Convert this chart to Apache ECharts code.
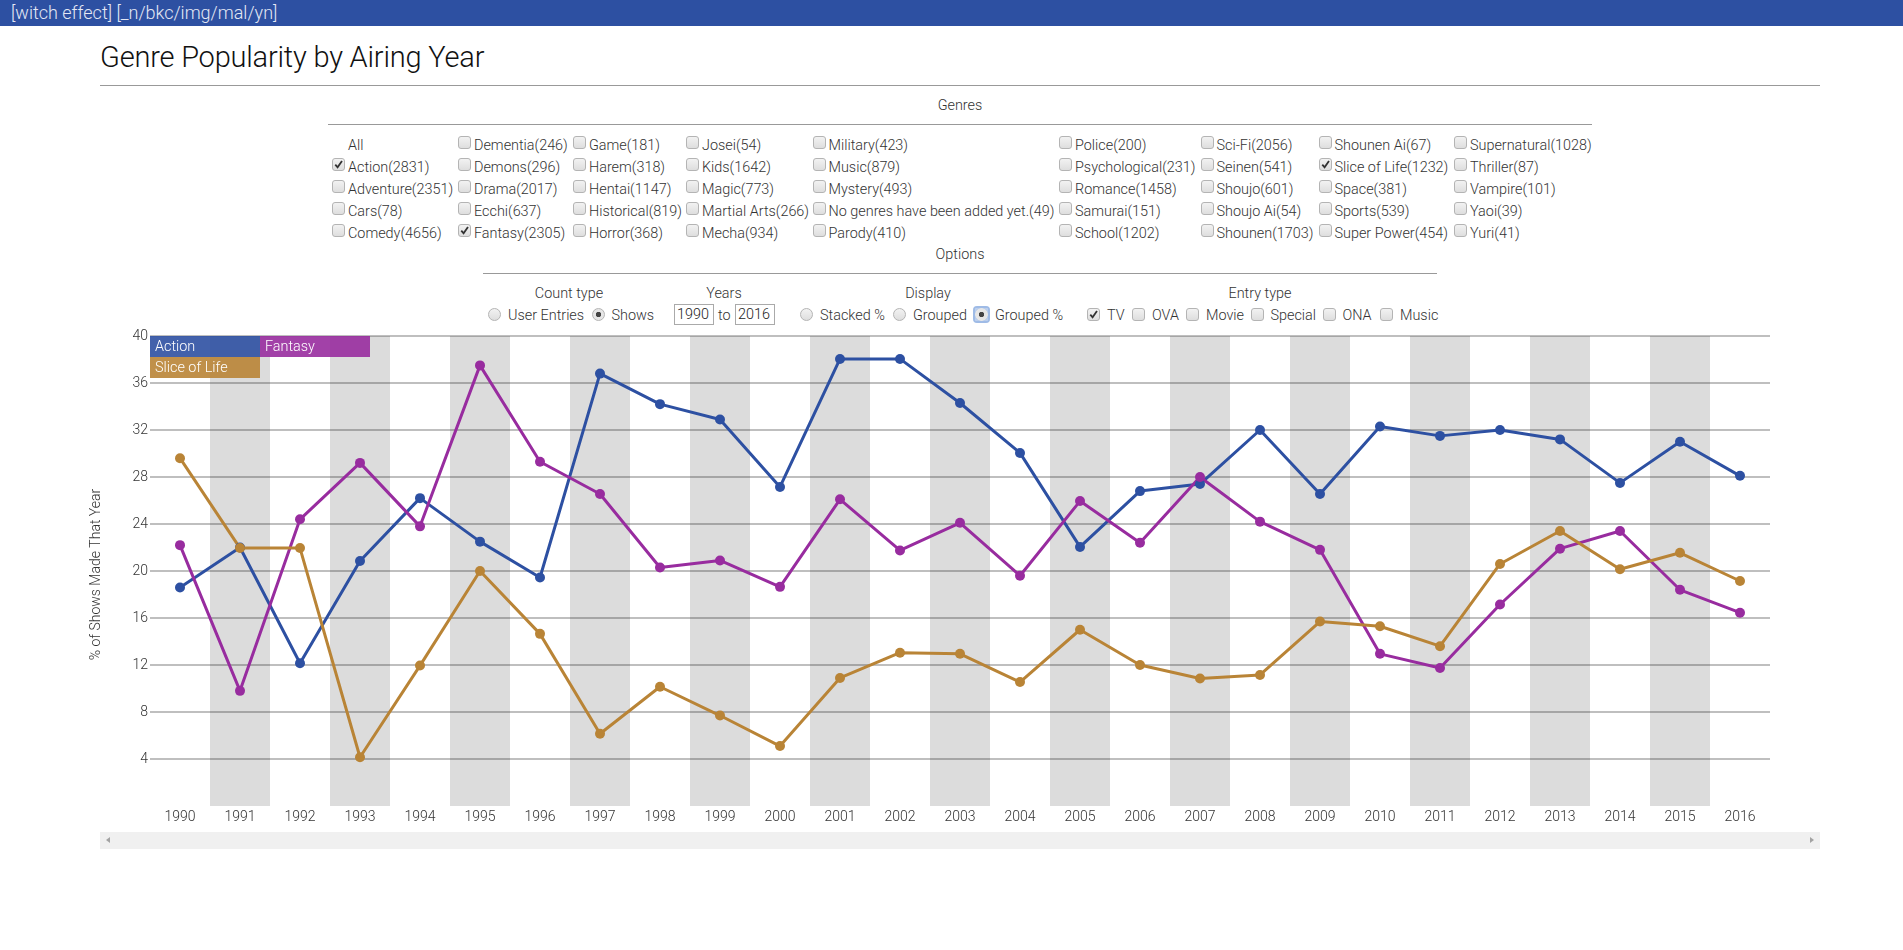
<!DOCTYPE html>
<html>
<head>
<meta charset="utf-8">
<title>Genre Popularity by Airing Year</title>
<script src="https://cdnjs.cloudflare.com/ajax/libs/echarts/6.0.0/echarts.min.js"></script>
<style>
  html, body { margin: 0; padding: 0; background: #fff; overflow: hidden; }
  body { width: 1903px; height: 950px; position: relative; font-family: Roboto, sans-serif; font-weight: 300; font-size: 14.4px; color: #333; }
  #topbar { position: absolute; left: 0; top: 0; width: 100%; height: 26px; background: #2d50a2; color: #e4e8f4; font-size: 18px; line-height: 25px; text-indent: 11px; }
  h1 { position: absolute; left: 100px; top: 38px; margin: 0; font-size: 29px; letter-spacing: -0.2px; font-weight: 300; line-height: 38px; color: #111; }
  .rule { position: absolute; height: 0; border-top: 1px solid #999; }
  .t { position: absolute; white-space: nowrap; line-height: 18px; }
  .c { transform: translateX(-50%); }
  input.box, input.dot { position: absolute; appearance: none; -webkit-appearance: none; margin: 0; width: 13px; height: 13px; box-sizing: border-box; border: 1px solid #b4b4b4; background: linear-gradient(#f2f2f2, #dedede); }
  input.box { border-radius: 3px; }
  input.dot { border-radius: 50%; }
  input.box:checked { background: url("data:image/svg+xml,%3Csvg xmlns='http://www.w3.org/2000/svg' viewBox='0 0 12 12'%3E%3Cpath d='M2.5 6.2 5 9 9.8 2.2' fill='none' stroke='%23333' stroke-width='2'/%3E%3C/svg%3E"), linear-gradient(#f2f2f2, #dedede); }
  input.dot:checked { background: radial-gradient(circle, #444 0 2.4px, #e6e6e6 3px); }
  input.dot.focus { border-radius: 2px; border: 0; outline: 2px solid #9fbbe6; background: radial-gradient(circle, #444 0 2.4px, #e6e6e6 3px 6px, #b9cdec 6.5px); }
  input.year { position: absolute; box-sizing: border-box; width: 40px; height: 21px; padding: 0 0 0 2px; border: 1px solid #aaa; font: 300 14.4px Roboto, sans-serif; color: #222; }
  #chart { position: absolute; left: 80px; top: 326px; width: 1720px; height: 506px; }
  #scroll { position: absolute; left: 100px; top: 832px; width: 1720px; height: 17px; background: #f0f0f0; }
  #scroll i { position: absolute; top: 5px; width: 0; height: 0; border-top: 3.5px solid transparent; border-bottom: 3.5px solid transparent; }
  #scroll .l { left: 6px; border-right: 4px solid #a3a3a3; }
  #scroll .r { right: 6px; border-left: 4px solid #a3a3a3; }
</style>
</head>
<body>
<div id="topbar">[witch effect] [_n/bkc/img/mal/yn]</div>
<h1>Genre Popularity by Airing Year</h1>
<div class="rule" style="left:100px;top:85px;width:1720px"></div>
<div class="t c" style="left:960px;top:97px">Genres</div>
<div class="rule" style="left:328px;top:124px;width:1264px"></div>
<div class="t c" style="left:960px;top:246px">Options</div>
<div class="rule" style="left:483px;top:273px;width:954px"></div>
<div id="controls"></div>
<div id="chart"></div>
<div id="scroll"><i class="l"></i><i class="r"></i></div>
<script>
// chart data
const years = ["1990","1991","1992","1993","1994","1995","1996","1997","1998","1999","2000","2001","2002","2003","2004","2005","2006","2007","2008","2009","2010","2011","2012","2013","2014","2015","2016"];
const action = [18.6,22,12.15,20.85,26.2,22.5,19.45,36.8,34.2,32.9,27.15,38.05,38.05,34.3,30.05,22.05,26.8,27.4,32,26.55,32.3,31.5,32,31.2,27.5,31,28.1];
const fantasy = [22.2,9.8,24.4,29.2,23.8,37.5,29.3,26.55,20.3,20.9,18.65,26.1,21.75,24.1,19.6,25.95,22.4,28,24.2,21.8,12.95,11.75,17.15,21.9,23.4,18.4,16.45];
const sliceOfLife = [29.6,21.95,21.95,4.15,11.95,20,14.65,6.15,10.15,7.7,5.1,10.9,13.05,12.95,10.55,15,12,10.85,11.15,15.7,15.3,13.6,20.6,23.4,20.15,21.55,19.15];
const seriesNames = ["Action","Fantasy","Slice of Life"];
const seriesColors = ["#2d50a2","#982c9f","#b98436"];

// genre filter table, column by column
const genreColumns = [
  ["All","Action(2831)","Adventure(2351)","Cars(78)","Comedy(4656)"],
  ["Dementia(246)","Demons(296)","Drama(2017)","Ecchi(637)","Fantasy(2305)"],
  ["Game(181)","Harem(318)","Hentai(1147)","Historical(819)","Horror(368)"],
  ["Josei(54)","Kids(1642)","Magic(773)","Martial Arts(266)","Mecha(934)"],
  ["Military(423)","Music(879)","Mystery(493)","No genres have been added yet.(49)","Parody(410)"],
  ["Police(200)","Psychological(231)","Romance(1458)","Samurai(151)","School(1202)"],
  ["Sci-Fi(2056)","Seinen(541)","Shoujo(601)","Shoujo Ai(54)","Shounen(1703)"],
  ["Shounen Ai(67)","Slice of Life(1232)","Space(381)","Sports(539)","Super Power(454)"],
  ["Supernatural(1028)","Thriller(87)","Vampire(101)","Yaoi(39)","Yuri(41)"]
];
const checkedGenres = ["Action(2831)","Fantasy(2305)","Slice of Life(1232)"];
const optionHeaders = ["Count type","Years","Display","Entry type"];
const radioLabels = ["User Entries","Shows","Stacked %","Grouped","Grouped %"];
const entryTypes = ["TV","OVA","Movie","Special","ONA","Music"];
const yearRange = ["1990","2016"];

// page layout for the controls
const genreColumnX = [332,458,573,686,812.5,1059,1200.5,1318.5,1454];
const genreRowY = [136,158,180,202,224];
const headerX = [569,724,928,1260];
const radioX = [488,591.5,800,893,975];
const entryX = [1087,1132,1186,1250.5,1322.5,1380];
const labelGap = 16;

const controls = document.getElementById("controls");
function addText(str, x, y, extra) {
  const el = document.createElement("div");
  el.className = "t " + (extra || "");
  el.style.left = x + "px";
  el.style.top = y + "px";
  el.textContent = str;
  controls.appendChild(el);
}
function addInput(type, x, y, checked, extra) {
  const el = document.createElement("input");
  el.type = type;
  el.className = (type === "radio" ? "dot " : "box ") + (extra || "");
  el.style.left = x + "px";
  el.style.top = y + "px";
  el.checked = checked;
  controls.appendChild(el);
}

genreColumns.forEach((col, i) => {
  col.forEach((label, j) => {
    if (label !== "All") addInput("checkbox", genreColumnX[i], genreRowY[j] - 0.5, checkedGenres.includes(label));
    addText(label, genreColumnX[i] + labelGap, genreRowY[j] + 1);
  });
});
optionHeaders.forEach((h, i) => addText(h, headerX[i], 285, "c"));
radioLabels.forEach((label, i) => {
  addInput("radio", radioX[i], 307.5, i === 1 || i === 4, i === 4 ? "focus" : "");
  addText(label, radioX[i] + 20, 307);
});
entryTypes.forEach((label, i) => {
  addInput("checkbox", entryX[i], 307.5, i === 0);
  addText(label, entryX[i] + 20, 307);
});
yearRange.forEach((y, i) => {
  const el = document.createElement("input");
  el.className = "year";
  el.value = y;
  el.style.left = (i === 0 ? 674 : 735) + "px";
  el.style.top = "304px";
  controls.appendChild(el);
});
addText("to", 718, 307);

// chart
const myChart = echarts.init(document.getElementById("chart"));
const seriesValues = [action, fantasy, sliceOfLife];
const font = { fontFamily: "Roboto", fontWeight: 300, fontSize: 14, color: "#333" };

// the key sits on top of the plot, top-left corner, two per row
const keySlots = [[70, 10], [180, 10], [70, 31]];
const keyItems = [];
seriesNames.forEach((name, i) => {
  keyItems.push({
    type: "rect",
    left: keySlots[i][0],
    top: keySlots[i][1],
    z: 100,
    shape: { width: 110, height: 21 },
    style: { fill: seriesColors[i], opacity: 0.9 }
  });
  keyItems.push({
    type: "text",
    left: keySlots[i][0] + 5,
    top: keySlots[i][1] + 4,
    z: 101,
    style: { text: name, fill: "#fff", font: "300 14.4px Roboto" }
  });
});

const option = {
  animation: false,
  grid: { left: 70, top: 10, width: 1620, height: 470 },
  xAxis: {
    type: "category",
    data: years,
    boundaryGap: true,
    z: 0,
    axisLine: { show: false },
    axisTick: { show: false },
    axisLabel: Object.assign({ interval: 0, margin: 4 }, font),
    splitLine: { show: false },
    splitArea: { show: true, interval: 0, areaStyle: { color: ["#ffffff", "#dcdcdc"] } }
  },
  yAxis: {
    type: "value",
    min: 0,
    max: 40,
    interval: 4,
    z: 1,
    name: "% of Shows Made That Year",
    nameLocation: "middle",
    nameRotate: 90,
    nameGap: 47,
    nameTextStyle: Object.assign({ padding: [0, 7, 0, 0] }, font),
    axisLine: { show: false },
    axisTick: { show: false },
    axisLabel: Object.assign({ margin: 2, showMinLabel: false, padding: [4, 0, 0, 0] }, font),
    splitLine: { show: true, showMinLine: false, lineStyle: { color: "rgba(0,0,0,0.25)", width: 2 } }
  },
  graphic: keyItems,
  series: seriesNames.map((name, i) => ({
    name: name,
    type: "line",
    z: 5,
    data: seriesValues[i],
    symbol: "circle",
    symbolSize: 10,
    lineStyle: { color: seriesColors[i], width: 3 },
    itemStyle: { color: seriesColors[i] }
  }))
};
myChart.setOption(option);
</script>
</body>
</html>
